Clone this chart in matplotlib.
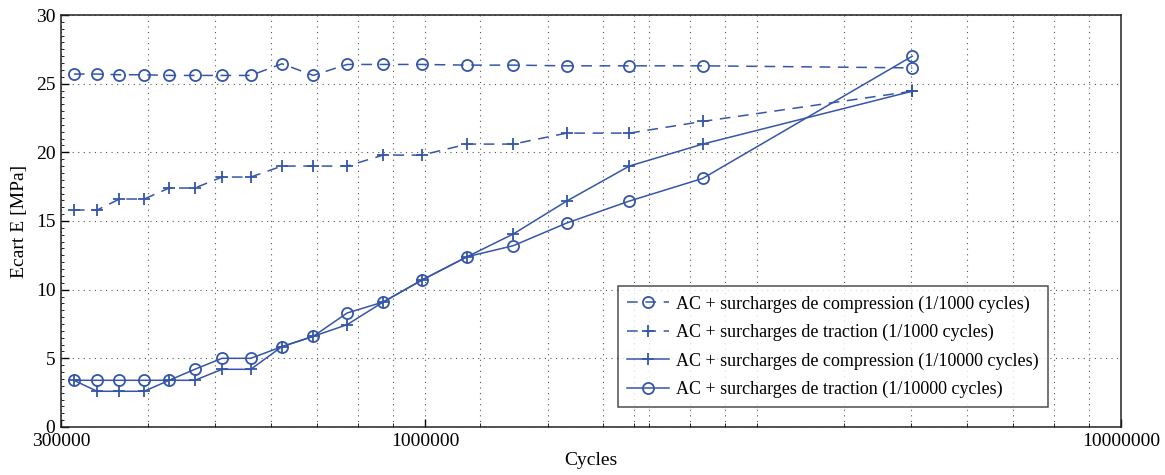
import numpy as np
import matplotlib
matplotlib.use('Agg')
from matplotlib import pyplot as plt
from matplotlib.ticker import FixedLocator, NullFormatter, MultipleLocator

# cycles (same abscissae for all four series)
cycles = [313000, 338000, 364000, 395000, 429000, 467000, 511000, 562000, 623000, 691000,
          773000, 871000, 990000, 1150000, 1339000, 1598000, 1966000, 2506000, 5013000]

comp_1000 = [25.7, 25.7, 25.65, 25.65, 25.6, 25.6, 25.6, 25.6, 26.45, 25.6,
             26.4, 26.4, 26.4, 26.35, 26.35, 26.3, 26.3, 26.3, 26.15]
trac_1000 = [15.8, 15.8, 16.6, 16.6, 17.4, 17.4, 18.2, 18.2, 19.0, 19.0,
             19.0, 19.8, 19.8, 20.6, 20.6, 21.4, 21.4, 22.25, 24.45]
comp_10000 = [3.4, 2.6, 2.6, 2.6, 3.4, 3.4, 4.2, 4.2, 5.85, 6.6,
              7.45, 9.1, 10.7, 12.4, 14.05, 16.45, 19.0, 20.6, 24.45]
trac_10000 = [3.4, 3.4, 3.4, 3.4, 3.4, 4.2, 5.0, 5.0, 5.85, 6.6,
              8.3, 9.1, 10.7, 12.4, 13.2, 14.85, 16.45, 18.1, 27.0]

labels = ['AC + surcharges de compression (1/1000 cycles)',
          'AC + surcharges de traction (1/1000 cycles)',
          'AC + surcharges de compression (1/10000 cycles)',
          'AC + surcharges de traction (1/10000 cycles)']

x_major = [300000, 1000000, 10000000]
x_minor = [400000, 500000, 600000, 700000, 800000, 900000,
           1200000, 1500000, 1800000, 2000000, 2100000, 2400000, 2700000,
           3000000, 4000000, 5000000, 6000000, 7000000, 8000000, 9000000]

plt.rcParams['font.family'] = ['Liberation Serif', 'DejaVu Serif']
plt.rcParams['font.size'] = 13

col = '#3556a8'
dash = (0, (7, 5))

fig = plt.figure(figsize=(11.65, 4.75), dpi=100)
ax = fig.add_axes([0.0524, 0.1011, 0.9098, 0.8673])

ax.plot(cycles, comp_1000, color=col, linestyle=dash, lw=1.1, marker='o', ms=8,
        mfc='none', mew=1.3, label=labels[0])
ax.plot(cycles, trac_1000, color=col, linestyle=dash, lw=1.1, marker='+', ms=9,
        mew=1.3, label=labels[1])
ax.plot(cycles, comp_10000, color=col, linestyle='-', lw=1.1, marker='+', ms=9,
        mew=1.3, label=labels[2])
ax.plot(cycles, trac_10000, color=col, linestyle='-', lw=1.1, marker='o', ms=8,
        mfc='none', mew=1.3, label=labels[3])

ax.set_xscale('log')
ax.set_xlim(300000, 10000000)
ax.set_ylim(0, 30)
ax.xaxis.set_major_locator(FixedLocator(x_major))
ax.set_xticklabels([str(v) for v in x_major])
ax.xaxis.set_minor_locator(FixedLocator(x_minor))
ax.xaxis.set_minor_formatter(NullFormatter())
ax.yaxis.set_major_locator(MultipleLocator(5))
ax.yaxis.set_minor_locator(MultipleLocator(0.5))

ax.tick_params(which='both', direction='in', top=False, right=False)
ax.tick_params(which='major', length=6, width=1, labelsize=14, pad=4)
ax.tick_params(which='minor', length=3, width=0.6)
ax.tick_params(axis='y', which='minor', length=2)

ax.grid(True, which='major', linestyle=(0, (1, 4)), color='#555555', lw=0.8)
ax.grid(True, which='minor', axis='x', linestyle=(0, (1, 4)), color='#555555', lw=0.8)
for s in ax.spines.values():
    s.set_linewidth(1.1)
    s.set_color('#222222')

ax.set_xlabel('Cycles', fontsize=14, labelpad=2)
ax.set_ylabel('Ecart E [MPa]', fontsize=14, labelpad=6)

leg = ax.legend(loc='lower right', bbox_to_anchor=(0.931, 0.048), fontsize=13,
                frameon=True, fancybox=False, edgecolor='#222222', handlelength=2.3,
                borderpad=0.5, borderaxespad=0, labelspacing=0.62, handletextpad=0.4)
leg.get_frame().set_linewidth(1.1)

fig.savefig('out.png', dpi=100)
